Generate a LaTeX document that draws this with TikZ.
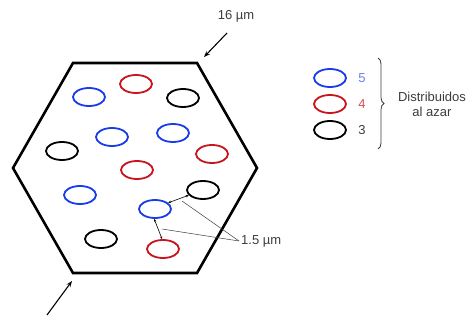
\documentclass[tikz,border=0pt]{standalone}
\usepackage{fontspec}
\setmainfont{Liberation Sans}
\usetikzlibrary{arrows.meta,decorations.pathreplacing,shapes.geometric}
\definecolor{cblue}{RGB}{25,60,235}
\definecolor{cred}{RGB}{200,20,30}
\definecolor{ctext}{RGB}{60,60,60}
\begin{document}
\begin{tikzpicture}[x=1pt,y=-1pt,
  cell/.style={draw=black,line width=2.6pt,line join=miter},
  inc/.style={ellipse,draw=#1,line width=1.8pt,minimum width=32pt,minimum height=18pt,inner sep=0pt},
  lbl/.style={font=\fontsize{13}{15}\selectfont,text=ctext,inner sep=0pt},
  pointer/.style={-{Stealth[length=6pt,width=4.5pt]},line width=1.1pt},
  gap/.style={{Stealth[length=3pt,width=2.5pt]}-{Stealth[length=3pt,width=2.5pt]},line width=0.6pt},
  leader/.style={draw=ctext,line width=0.5pt}]
\useasboundingbox (0,0) rectangle (470,320);
% hexagonal cell outline
\draw[cell] (73,63) coordinate (h1) -- (197,63) coordinate (h2) -- (257,168) -- (197,273) coordinate (h4)
  -- (73,273) coordinate (h5) -- (13,168) -- cycle;
% size markers
\node[lbl] (size) at (236,16) {16 µm};
\coordinate (tA) at (227,33);
\coordinate (tB) at (204,57);
\draw[pointer] (tA) -- (tB);
\coordinate (bA) at (47,315);
\coordinate (bB) at (72,281);
\draw[pointer] (bA) -- (bB);
% inclusions
\node[inc=cblue] (b1) at (89,97) {};
\node[inc=cred]  (r1) at (136,84) {};
\node[inc=black] (k1) at (183,98) {};
\node[inc=cblue] (b2) at (112,137) {};
\node[inc=cblue] (b3) at (173,133) {};
\node[inc=black] (k2) at (62,151) {};
\node[inc=cred]  (r2) at (212,154) {};
\node[inc=cred]  (r3) at (137,170) {};
\node[inc=cblue] (b4) at (80,195) {};
\node[inc=black] (k3) at (203,190) {};
\node[inc=cblue] (b5) at (155,209) {};
\node[inc=black] (k4) at (101,239) {};
\node[inc=cred]  (r4) at (163,249) {};
% spacing annotations
\draw[gap] (b5.25) -- (k3.200);
\draw[gap] (b5.265) -- (r4.95);
\node[lbl,anchor=west] (sp) at (241,241) {1.5 µm};
\coordinate (m1) at (182,201);
\coordinate (m2) at (162,229);
\draw[leader] ([xshift=-2pt]sp.west) -- (m1);
\draw[leader] ([xshift=-2pt]sp.west) -- (m2);
% legend
\node[inc=cblue] (lb) at (330,78) {};
\node[inc=cred]  (lr) at (330,104) {};
\node[inc=black] (lk) at (330,130) {};
\node[lbl,text=cblue!65!white] at (362,78) {5};
\node[lbl,text=cred!75!white] at (362,104) {4};
\node[lbl] at (362,130) {3};
\coordinate (brT) at (378,58);
\coordinate (brB) at (378,149);
\draw[ctext,line width=0.8pt,decorate,decoration={brace,amplitude=6pt}] (brT) -- (brB) coordinate[midway] (brM);
\node[lbl,align=center] (dist) at (432,104) {Distribuidos\\al azar};
\end{tikzpicture}
\end{document}
